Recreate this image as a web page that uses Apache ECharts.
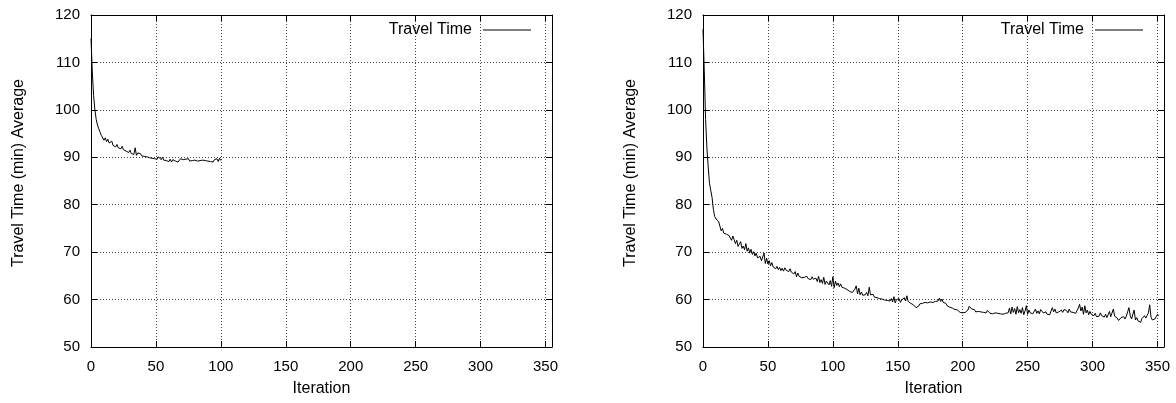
<!DOCTYPE html>
<html>
<head>
<meta charset="utf-8">
<title>Travel Time</title>
<script src="https://cdn.jsdelivr.net/npm/echarts@6.0.0/dist/echarts.min.js"></script>
<style>
	html,body{margin:0;padding:0;background:#fff;}
	#chart{width:1176px;height:403px;}
</style>
</head>
<body>
<div id="chart"></div>
<script>
// x ticks / y ticks
var xTicks = [0, 50, 100, 150, 200, 250, 300, 350];
var yTicks = [50, 60, 70, 80, 90, 100, 110, 120];

// left run: iterations 0..100
var travelLeft = [
	115, 108, 103, 100, 98, 96.8, 96, 95.3, 94.6, 94.2,
	93.6, 94.1, 93.3, 93.8, 93.0, 92.8, 93.4, 92.5, 92.9, 92.2,
	92.7, 92.0, 92.4, 91.8, 92.3, 91.6, 91.9, 91.3, 91.7, 91.0,
	91.5, 90.8, 91.2, 90.6, 92.0, 90.4, 90.9, 90.5, 90.8, 90.3,
	90.7, 90.2, 90.6, 90.1, 90.4, 89.9, 90.3, 89.8, 90.1, 89.7,
	90.0, 89.6, 90.1, 89.8, 89.5, 90.0, 89.4, 89.8, 89.3, 89.7,
	89.1, 89.6, 89.0, 89.5, 89.8, 89.2, 89.6, 89.0, 89.4, 89.7,
	89.3, 89.5, 89.1, 89.6, 89.4, 89.7, 89.2, 89.5, 89.3, 89.6,
	89.4, 89.5, 89.2, 89.6, 89.3, 89.1, 89.4, 89.0, 89.3, 89.5,
	89.2, 89.6, 89.1, 89.4, 89.0, 89.5, 89.2, 89.7, 89.1, 89.8,
	89.3
];

// right run: iterations 0..351
var travelRight = [
	117, 108, 98, 92, 88, 84.5, 83, 81.5, 79, 77.5,
	77, 76.8, 76.5, 75.5, 74.5, 75, 74, 74.3, 73.8, 74.2,
	73.5, 73.2, 72.5, 73.4, 72.6, 71.8, 72.5, 71.2, 71.6, 72.2,
	70.8, 71.3, 70.5, 71.8, 70.2, 70.9, 69.8, 70.6, 69.5, 70.1,
	69.2, 69.8, 68.8, 68.5, 69.1, 68.2, 68.6, 69.8, 67.6, 68.7,
	67.5, 68.2, 67.1, 67.8, 66.9, 67.3, 66.5, 67.0, 66.3, 66.8,
	66.1, 66.6, 66.0, 66.7, 66.2, 66.4, 65.9, 66.5, 65.8, 66.2,
	65.4, 65.9, 64.8, 65.6, 64.9, 65.1, 64.6, 64.9, 64.7, 64.5,
	64.9, 64.4, 64.6, 64.2, 64.8, 64.3, 64.0, 64.5, 63.8, 64.9,
	63.6, 64.2, 63.4, 64.7, 63.2, 63.9, 63.5, 63.1, 64.0, 62.8,
	64.8, 62.5, 63.9, 63.0, 63.5, 62.7, 63.3, 62.6, 62.9, 62.4,
	62.7, 62.1, 62.3, 61.7, 61.9, 61.5, 61.3, 62.2, 62.9, 61.2,
	62.4, 61.0, 61.6, 60.9, 61.3, 61.0, 61.5, 60.8, 62.6, 61.0,
	60.7, 61.1, 60.5, 60.9, 60.4, 60.8, 60.2, 60.5, 60.1, 60.4,
	59.9, 60.3, 59.8, 60.1, 59.7, 60.2, 59.5, 60.6, 59.3, 60.0,
	59.6, 60.2, 59.4, 59.9, 59.5, 60.4, 59.7, 60.8, 59.6, 59.9,
	59.2, 59.4, 58.9, 58.6, 58.3, 58.1, 58.6, 59.1, 58.7, 59.2,
	59.0, 59.4, 59.1, 59.3, 59.0, 59.5, 59.2, 59.4, 59.1, 59.6,
	59.3, 59.7, 60.3, 59.6, 60.1, 59.4, 59.0, 59.2, 58.7, 58.9,
	58.4, 58.6, 58.2, 58.5, 57.9, 58.2, 57.8, 57.6, 57.3, 57.5,
	57.2, 57.6, 57.3, 57.5, 57.8, 58.6, 58.9, 58.0, 57.6, 57.9,
	57.4, 57.7, 57.5, 57.9, 57.4, 57.6, 57.3, 57.5, 57.2, 57.7,
	57.4, 57.1, 57.3, 57.0, 57.4, 57.2, 57.6, 57.1, 57.3, 57.0,
	57.2, 56.9, 57.3, 57.1, 57.5, 57.2, 58.2, 57.0, 58.4, 57.3,
	58.1, 56.9, 58.5, 57.2, 57.9, 57.1, 58.3, 56.8, 57.6, 58.7,
	56.9, 57.8, 57.2, 57.5, 57.0, 57.4, 58.0, 57.1, 57.6, 57.0,
	57.9, 58.3, 57.2, 57.0, 57.4, 56.9, 57.3, 56.8, 57.6, 58.3,
	57.4, 58.0, 57.2, 56.9, 57.4, 57.1, 57.8, 57.3, 57.9, 57.5,
	57.7, 57.2, 58.0, 57.4, 57.8, 57.3, 57.6, 57.1, 57.5, 58.2,
	59.0, 57.6, 58.4, 56.9, 58.7, 57.2, 57.8, 56.8, 57.5, 56.9,
	57.3, 56.6, 57.1, 56.4, 56.8, 56.5, 57.2, 56.6, 57.0, 56.3,
	56.9, 56.2, 56.6, 57.5, 56.4, 56.0, 58.0, 56.5, 56.8, 56.1,
	55.6, 55.4, 56.2, 55.8, 56.4, 55.9, 56.5, 57.4, 58.3, 56.6,
	55.9, 56.3, 57.8, 55.7, 56.2, 55.5, 55.9, 55.2, 56.0, 55.8,
	56.6, 56.1, 55.8, 57.2, 58.9, 56.3, 55.7, 56.1, 55.9, 56.4,
	56.9, 56.6
];

var seriesName = 'Travel Time';
var xName = 'Iteration';
var yName = 'Travel Time (min) Average';

(function(){
	"use strict";
	var font = 'Liberation Sans, Arial, sans-serif';
	var chart = echarts.init(document.getElementById('chart'));

	function toPairs(arr){
		return arr.map(function(v, i){ return [i, v]; });
	}

	// 只显示刻度数组里的标签
	function tickLabel(list){
		return function(v){
			return list.indexOf(v) >= 0 ? String(v) : '';
		};
	}

	var gridLine = {show:true, lineStyle:{color:'#444', width:1, type:[1, 2]}};
	var frameLine = {show:true, onZero:false, lineStyle:{color:'#000', width:1}};
	var tickIn = {show:true, inside:true, length:6, lineStyle:{color:'#000'}};

	var xAxes = [], yAxes = [];
	[0, 1].forEach(function(g){
		xAxes.push({
			gridIndex:g, type:'value', position:'bottom',
			min:0, max:355, interval:50,
			name:xName, nameLocation:'middle', nameGap:34,
			nameTextStyle:{fontFamily:font, fontSize:16, color:'#000'},
			axisLine:frameLine, axisTick:tickIn, splitLine:gridLine,
			axisLabel:{fontFamily:font, fontSize:15, color:'#000', margin:12, formatter:tickLabel(xTicks)}
		});
		xAxes.push({
			gridIndex:g, type:'value', position:'top',
			min:0, max:355, interval:50,
			axisLine:frameLine, axisTick:tickIn, splitLine:{show:false},
			axisLabel:{show:false}
		});
		yAxes.push({
			gridIndex:g, type:'value', position:'left',
			min:50, max:120, interval:10,
			name:yName, nameLocation:'middle', nameGap:64,
			nameTextStyle:{fontFamily:font, fontSize:16, color:'#000', padding:[0, 0, 0, 16]},
			axisLine:frameLine, axisTick:tickIn, splitLine:gridLine,
			axisLabel:{fontFamily:font, fontSize:15, color:'#000', margin:11, formatter:tickLabel(yTicks)}
		});
		yAxes.push({
			gridIndex:g, type:'value', position:'right',
			min:50, max:120, interval:10,
			axisLine:frameLine, axisTick:tickIn, splitLine:{show:false},
			axisLabel:{show:false}
		});
	});

	// 图例：只画一条细线，不要圆点
	function legendAt(rightPx){
		return {
			data:[{name:seriesName, icon:'rect'}], top:22, right:rightPx,
			align:'right', itemWidth:48, itemHeight:1, padding:0,
			itemStyle:{color:'#000'},
			textStyle:{fontFamily:font, fontSize:16, color:'#000', padding:[0, 6, 0, 0]},
			selectedMode:false
		};
	}

	var option = {
		animation:false,
		backgroundColor:'#fff',
		grid:[
			{left:91, top:15, width:461, height:332},
			{left:703, top:15, width:461, height:332}
		],
		xAxis:xAxes,
		yAxis:yAxes,
		legend:[legendAt(645), legendAt(33)],
		series:[
			{
				name:seriesName, type:'line', xAxisIndex:0, yAxisIndex:0,
				data:toPairs(travelLeft), symbol:'none',
				lineStyle:{color:'#000', width:1}, itemStyle:{color:'#000'}
			},
			{
				name:seriesName, type:'line', xAxisIndex:2, yAxisIndex:2,
				data:toPairs(travelRight), symbol:'none',
				lineStyle:{color:'#000', width:1}, itemStyle:{color:'#000'}
			}
		]
	};
	chart.setOption(option);
})();
</script>
</body>
</html>
